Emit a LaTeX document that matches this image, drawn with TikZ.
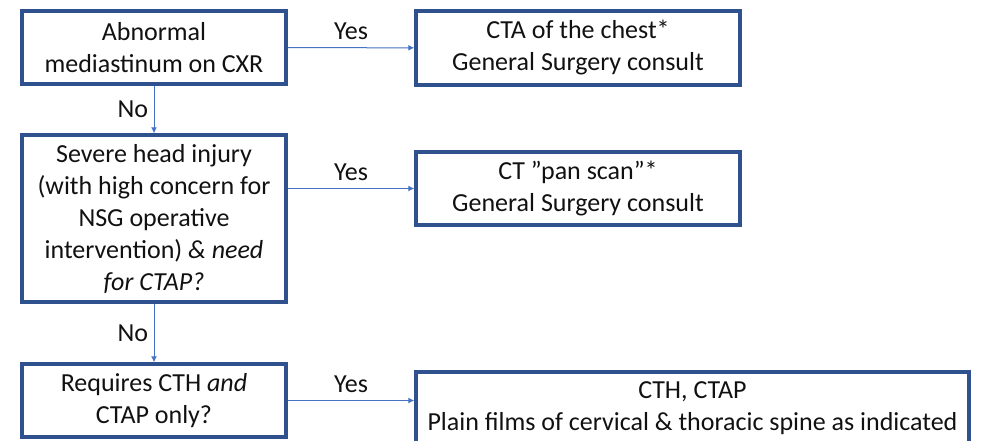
\documentclass[tikz,border=0pt]{standalone}
\usepackage{fontspec}
\setmainfont{Carlito}
\usetikzlibrary{arrows.meta}

\definecolor{boxblue}{HTML}{2F528F}
\definecolor{arrowblue}{HTML}{4472C4}
\definecolor{textgray}{HTML}{111111}

\tikzset{
  decision/.style={draw=boxblue, line width=3.5pt, align=center, text=textgray,
    inner sep=2pt, minimum width=264pt, font=\fontsize{26}{32}\selectfont},
  action/.style={decision},
  link/.style={draw=arrowblue, line width=1pt, -{Latex[length=6pt,width=6pt]}},
  answer/.style={text=textgray, font=\fontsize{26}{30}\selectfont}
}

\begin{document}
\begin{tikzpicture}[x=1pt,y=-1pt]
  \useasboundingbox (0,0) rectangle (981,441);
  \clip (0,0) rectangle (981,441);

  \node[decision, minimum height=73pt] (cxr) at (154,47.5) {Abnormal\\mediastinum on CXR};
  \node[action, minimum width=324pt, minimum height=74pt] (cta) at (578,48) {CTA of the chest*\\General Surgery consult};

  \node[decision, minimum height=167pt] (head) at (154,218.5) {Severe head injury\\(with high concern for\\NSG operative\\intervention) \textit{\& need}\\\textit{for CTAP?}};
  \node[action, minimum width=324pt, minimum height=73pt] (pan) at (578,188.5) {CT ”pan scan”*\\General Surgery consult};

  \node[decision, minimum height=73pt] (cth) at (154,400.5) {Requires CTH \textit{and}\\CTAP only?};
  \node[action, minimum width=553pt, minimum height=73pt] (films) at (692.5,408.5) {CTH, CTAP\\Plain films of cervical \& thoracic spine as indicated};

  \draw[link] (cxr) -- node[answer, above=4pt] {Yes} (cta);
  \draw[link] (cxr) -- node[answer, left=2pt] {No} (head);
  \draw[link] (pan.west -| head.east) -- node[answer, above=4pt] {Yes} (pan.west);
  \draw[link] (head) -- node[answer, left=2pt] {No} (cth);
  \draw[link] (cth.east) -- node[answer, above=4pt] {Yes} (cth.east -| films.west);
\end{tikzpicture}
\end{document}
